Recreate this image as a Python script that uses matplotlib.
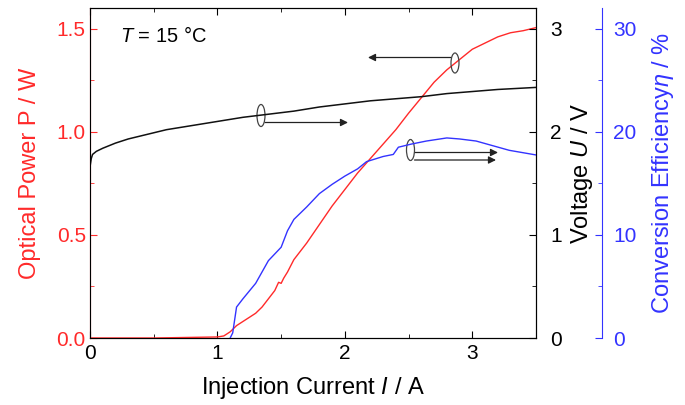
import matplotlib
matplotlib.use("Agg")
import matplotlib.pyplot as plt
from matplotlib.patches import Ellipse
from matplotlib.ticker import MultipleLocator

plt.rcParams['font.family'] = ['Liberation Sans', 'DejaVu Sans']
plt.rcParams['mathtext.fontset'] = 'custom'
plt.rcParams['mathtext.it'] = 'Liberation Sans:italic'
plt.rcParams['mathtext.rm'] = 'Liberation Sans'

# Optical power P (W) vs current I (A)
I_p = [0.0, 0.5, 1.0, 1.05, 1.1, 1.15, 1.2, 1.25, 1.3, 1.35, 1.4, 1.45, 1.48, 1.5, 1.52,
       1.55, 1.6, 1.7, 1.8, 1.9, 2.0, 2.1, 2.2, 2.3, 2.4, 2.5, 2.6, 2.7,
       2.8, 2.9, 3.0, 3.1, 3.2, 3.3, 3.4, 3.5]
P = [0.0, 0.0, 0.005, 0.01, 0.03, 0.06, 0.08, 0.10, 0.12, 0.15, 0.19, 0.23, 0.27, 0.265,
     0.29, 0.32, 0.38, 0.46, 0.55, 0.64, 0.72, 0.80, 0.87, 0.94, 1.01, 1.09,
     1.165, 1.24, 1.30, 1.35, 1.40, 1.43, 1.46, 1.48, 1.49, 1.505]

# Voltage U (V)
I_u = [0.0, 0.01, 0.02, 0.05, 0.1, 0.2, 0.3, 0.4, 0.5, 0.6, 0.8, 1.0, 1.2, 1.4, 1.6,
       1.8, 2.0, 2.2, 2.4, 2.6, 2.8, 3.0, 3.2, 3.5]
U = [1.66, 1.74, 1.78, 1.81, 1.84, 1.89, 1.93, 1.96, 1.99, 2.02, 2.06, 2.10, 2.14, 2.17,
     2.20, 2.24, 2.27, 2.30, 2.32, 2.34, 2.37, 2.39, 2.41, 2.43]

# Conversion efficiency eta (%)
I_e = [1.1, 1.12, 1.15, 1.2, 1.3, 1.4, 1.5, 1.55, 1.6, 1.7, 1.8, 1.9, 2.0, 2.1, 2.17,
       2.3, 2.38, 2.42, 2.52, 2.64, 2.8, 2.9, 3.03, 3.16, 3.29, 3.5]
eta = [0.0, 0.5, 3.0, 3.8, 5.3, 7.5, 8.8, 10.4, 11.5, 12.7, 14.0, 14.9, 15.7, 16.4, 17.1,
       17.6, 17.8, 18.5, 18.8, 19.1, 19.4, 19.3, 19.1, 18.65, 18.2, 17.75]

fig = plt.figure(figsize=(6.85, 4.05), dpi=100)
ax = fig.add_axes([90/685, 1-338/405, 446/685, 330/405])
ax2 = ax.twinx()
ax3 = ax.twinx()

red = '#ff2a2a'
blue = '#3333ff'

ax.plot(I_p, P, color=red, lw=1.0, zorder=3)
ax2.plot(I_u, U, color='#111111', lw=1.1)
ax3.plot(I_e, eta, color=blue, lw=1.0)

ax.set_xlim(0, 3.5)
ax.set_ylim(0, 1.6)
ax2.set_ylim(0, 3.2)
ax3.set_ylim(0, 32)

ax.xaxis.set_major_locator(MultipleLocator(1))
ax.xaxis.set_minor_locator(MultipleLocator(0.5))
ax.yaxis.set_major_locator(MultipleLocator(0.5))
ax.yaxis.set_minor_locator(MultipleLocator(0.25))
ax2.yaxis.set_major_locator(MultipleLocator(1))
ax2.yaxis.set_minor_locator(MultipleLocator(0.5))
ax3.yaxis.set_major_locator(MultipleLocator(10))
ax3.yaxis.set_minor_locator(MultipleLocator(5))

fs_tick = 15
fs_lab = 17

ax.tick_params(axis='x', which='both', direction='in', top=True, labelsize=fs_tick, pad=4)
ax.tick_params(axis='x', which='major', length=5)
ax.tick_params(axis='x', which='minor', length=3)
ax.tick_params(axis='y', which='both', direction='in', colors=red, labelsize=fs_tick, pad=3)
ax.tick_params(axis='y', which='major', length=5)
ax.tick_params(axis='y', which='minor', length=3)
ax.set_yticklabels([f'{v:.1f}' for v in ax.get_yticks()])
ax.spines['left'].set_color(red)

ax2.tick_params(axis='y', which='both', direction='in', colors='k', labelsize=fs_tick, pad=10)
ax2.tick_params(axis='y', which='major', length=5)
ax2.tick_params(axis='y', which='minor', length=3)

ax3.spines['right'].set_position(('axes', 1.148))
ax3.spines['right'].set_color(blue)
for s in ['left', 'top', 'bottom']:
    ax3.spines[s].set_visible(False)
ax3.tick_params(axis='y', which='both', direction='in', colors=blue, labelsize=fs_tick, pad=8)
ax3.tick_params(axis='y', which='major', length=5)
ax3.tick_params(axis='y', which='minor', length=3)

ax.set_xlabel('Injection Current $\\mathit{I}$ / A', fontsize=fs_lab, labelpad=9)
ax.set_ylabel('Optical Power P / W', fontsize=fs_lab, color=red, labelpad=11)
ax2.set_ylabel('Voltage $\\mathit{U}$ / V', fontsize=fs_lab, color='k', labelpad=5)
ax3.set_ylabel('Conversion Efficiency$\\mathit{\\eta}$ / %', fontsize=fs_lab, color=blue, labelpad=10)

ax.text(0.235, 1.465, '$\\mathit{T}$ = 15 °C', fontsize=14.5, va='center', ha='left')

# annotations (in optical power data coords)
def px2d(px, py):
    return (px - 90) / 127.43, (338 - py) / 206.25

ell_kw = dict(fill=False, edgecolor='#444444', lw=0.9, zorder=5)
arr_kw = dict(arrowstyle='-|>', color='#222222', lw=0.9, mutation_scale=11, shrinkA=0, shrinkB=0)

# ellipse on P curve, arrow to the left
cx, cy = px2d(455, 63)
ax.add_patch(Ellipse((cx, cy), 8/127.43, 20/206.25, **ell_kw))
ax.annotate('', xy=px2d(368, 57.5), xytext=px2d(451, 57.5), arrowprops=arr_kw)

# ellipse on U curve, arrow to the right
cx, cy = px2d(261, 115.5)
ax.add_patch(Ellipse((cx, cy), 8/127.43, 22/206.25, **ell_kw))
ax.annotate('', xy=px2d(348, 122.5), xytext=px2d(265, 122.5), arrowprops=arr_kw)

# ellipse on eta curve, two arrows to the right
cx, cy = px2d(410.5, 150)
ax.add_patch(Ellipse((cx, cy), 8/127.43, 21/206.25, **ell_kw))
ax.annotate('', xy=px2d(498, 152.5), xytext=px2d(414.5, 152.5), arrowprops=arr_kw)
ax.annotate('', xy=px2d(496, 160), xytext=px2d(414.5, 160), arrowprops=arr_kw)

fig.savefig('out.png', dpi=100)
